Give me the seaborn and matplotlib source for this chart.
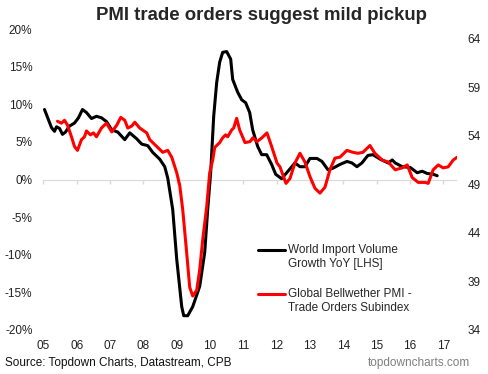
import numpy as np
import pandas as pd
import matplotlib
matplotlib.use("Agg")
import matplotlib.pyplot as plt
from matplotlib.legend_handler import HandlerLine2D
import seaborn as sns

sns.set_style("white")
plt.rcParams['font.family'] = ['Liberation Sans', 'DejaVu Sans']

# world import volume growth yoy (%)
black_year = [2005.03, 2005.24, 2005.33, 2005.39, 2005.48, 2005.57, 2005.66, 2005.78, 2005.93,
              2006.05, 2006.17, 2006.29, 2006.44, 2006.59, 2006.74, 2006.89,
              2007.05, 2007.23, 2007.44, 2007.59, 2007.80, 2007.95,
              2008.13, 2008.28, 2008.49, 2008.64, 2008.73, 2008.88,
              2009.00, 2009.15, 2009.21, 2009.33, 2009.48, 2009.69, 2009.84, 2009.93,
              2010.02, 2010.11, 2010.20, 2010.29, 2010.38, 2010.50, 2010.62, 2010.68, 2010.83, 2010.95,
              2011.07, 2011.19, 2011.28, 2011.43, 2011.55, 2011.70, 2011.85, 2011.97,
              2012.15, 2012.34, 2012.55, 2012.70, 2012.85,
              2013.00, 2013.21, 2013.36, 2013.54, 2013.69, 2013.90,
              2014.11, 2014.26, 2014.41, 2014.56, 2014.74, 2014.89,
              2015.11, 2015.35, 2015.47, 2015.56, 2015.77,
              2016.01, 2016.22, 2016.37, 2016.52, 2016.70, 2016.82]
black_yoy = [9.3, 6.9, 6.4, 7.0, 6.8, 6.0, 6.3, 7.1, 7.5,
             8.2, 9.3, 8.9, 8.1, 8.4, 8.2, 7.7,
             6.6, 6.3, 5.3, 6.2, 5.4, 4.7,
             4.5, 3.6, 2.7, 1.7, 0.2, -4.0,
             -10.6, -16.9, -18.1, -18.1, -16.9, -14.2, -9.7, -4.0,
             1.0, 8.4, 12.9, 15.6, 16.9, 17.0, 16.0, 13.3, 11.6, 10.6,
             10.2, 8.9, 6.6, 4.4, 3.3, 3.3, 2.0, 0.7,
             0.1, 1.1, 2.2, 1.7, 1.7,
             2.8, 2.8, 2.4, 1.3, 1.5, 2.0,
             2.4, 2.2, 1.7, 2.2, 3.2, 3.3,
             2.7, 2.2, 2.6, 2.2, 1.7,
             1.6, 0.9, 1.1, 0.8, 0.7, 0.5]

# global bellwether pmi - trade orders subindex
red_year = [2005.42, 2005.54, 2005.63, 2005.72, 2005.84, 2005.93,
            2006.02, 2006.14, 2006.23, 2006.29, 2006.41, 2006.50, 2006.59, 2006.74, 2006.89,
            2007.05, 2007.20, 2007.32, 2007.44, 2007.53, 2007.65, 2007.74, 2007.89,
            2008.10, 2008.19, 2008.40, 2008.58, 2008.73, 2008.85,
            2009.00, 2009.09, 2009.18, 2009.30, 2009.39, 2009.48, 2009.60, 2009.69, 2009.78, 2009.90, 2009.99,
            2010.08, 2010.14, 2010.29, 2010.38, 2010.47, 2010.53, 2010.65, 2010.71, 2010.80, 2010.89,
            2011.05, 2011.20, 2011.29, 2011.41, 2011.56, 2011.71, 2011.86,
            2012.01, 2012.10, 2012.28, 2012.40, 2012.55, 2012.70, 2012.85,
            2013.00, 2013.15, 2013.30, 2013.45, 2013.60, 2013.75, 2013.90,
            2014.11, 2014.29, 2014.44, 2014.59, 2014.80, 2014.95,
            2015.17, 2015.35, 2015.56, 2015.77, 2015.92,
            2016.07, 2016.25, 2016.46, 2016.55, 2016.70, 2016.85,
            2017.00, 2017.15, 2017.30, 2017.42]
red_pmi = [55.5, 55.3, 55.6, 55.1, 53.9, 52.9,
           52.5, 53.6, 53.9, 54.5, 54.1, 54.3, 53.9, 54.8, 55.3,
           54.4, 55.1, 55.9, 55.6, 54.8, 55.0, 55.4, 54.8,
           54.3, 53.6, 52.9, 52.3, 52.5, 51.8,
           50.2, 48.9, 46.4, 41.9, 38.4, 37.5, 38.1, 40.2, 43.3, 46.7, 50.2,
           51.5, 52.8, 53.3, 53.8, 54.1, 53.9, 54.6, 54.8, 55.8, 54.6,
           53.3, 53.4, 53.8, 53.4, 53.8, 54.3, 52.8,
           51.2, 50.8, 49.1, 49.6, 51.2, 52.2, 51.3,
           49.8, 48.6, 48.1, 48.7, 50.5, 51.7, 51.8,
           52.5, 52.3, 52.2, 52.3, 53.0, 52.2,
           51.5, 51.3, 50.5, 50.7, 51.0,
           49.7, 49.2, 49.2, 49.1, 50.5, 51.0,
           50.7, 50.8, 51.5, 51.8]

years = list(range(2005, 2018))
year_labels = [f"{y % 100:02d}" for y in years]
left_ticks = list(range(-20, 21, 5))
right_ticks = list(range(34, 65, 5))

black_df = pd.DataFrame({'year': black_year, 'value': black_yoy})
red_df = pd.DataFrame({'year': red_year, 'value': red_pmi})


class FirstLineHandler(HandlerLine2D):
    # put the legend line level with the first line of a two-line label
    def create_artists(self, legend, orig_handle, xdescent, ydescent, width, height, fontsize, trans):
        artists = super().create_artists(legend, orig_handle, xdescent, ydescent, width, height,
                                         fontsize, trans)
        for a in artists:
            a.set_ydata(np.asarray(a.get_ydata()) + 0.6 * fontsize)
        return artists


fig = plt.figure(figsize=(4.89, 3.74), dpi=100)
ax = fig.add_axes([43.5 / 489, 1 - 330 / 374, 413 / 489, 301 / 374])
ax2 = ax.twinx()

sns.lineplot(data=black_df, x='year', y='value', ax=ax, color='black', linewidth=2.2,
             label='World Import Volume\nGrowth YoY [LHS]', legend=False)
sns.lineplot(data=red_df, x='year', y='value', ax=ax2, color='#ff0000', linewidth=2.2,
             label='Global Bellwether PMI -\nTrade Orders Subindex', legend=False)

ax.set_xlim(2005, 2017.4)
ax.set_ylim(-20, 20)
ax2.set_ylim(34, 65)
ax.set_yticks(left_ticks)
ax.set_yticklabels([f"{t}%" for t in left_ticks])
ax2.set_yticks(right_ticks)
ax.set_xticks(years)
ax.set_xticklabels(year_labels)
ax.set_xlabel('')
ax.set_ylabel('')
ax2.set_ylabel('')

for a in (ax, ax2):
    for s in a.spines.values():
        s.set_visible(False)
ax.tick_params(axis='both', length=0, labelsize=8.5, colors='#222222')
ax.tick_params(axis='y', pad=8)
ax.tick_params(axis='x', pad=7)
ax2.tick_params(axis='y', length=0, labelsize=8.5, colors='#222222', pad=8)

# zero line with year ticks
zero = ax.secondary_xaxis(0.5)
zero.set_alignment('bottom')
zero.set_xticks(years)
zero.set_xticklabels([])
for s in zero.spines.values():
    s.set_color('#d9d9d9')
zero.tick_params(axis='x', length=3, color='#d9d9d9', direction='out', width=1)
zero.set_zorder(0.5)

h1, l1 = ax.get_legend_handles_labels()
h2, l2 = ax2.get_legend_handles_labels()
ax2.legend(h1 + h2, l1 + l2, loc='upper left', bbox_to_anchor=(258 / 489, 1 - 244 / 374),
           bbox_transform=fig.transFigure, frameon=False, fontsize=8.5, handlelength=2.3,
           handletextpad=0.2, labelspacing=1.55, borderpad=0, borderaxespad=0,
           handler_map={h: FirstLineHandler() for h in h1 + h2})

fig.text(262 / 489, 1 - 16 / 374, 'PMI trade orders suggest mild pickup', ha='center', va='center',
         fontsize=13.4, fontweight='bold')
fig.text(5 / 489, 1 - 363 / 374, 'Source: Topdown Charts, Datastream, CPB', ha='left', va='center',
         fontsize=8.5, color='#111111')
fig.text(470 / 489, 1 - 363 / 374, 'topdowncharts.com', ha='right', va='center',
         fontsize=8.5, color='#7f7f7f')

fig.savefig('out.png', dpi=100)
